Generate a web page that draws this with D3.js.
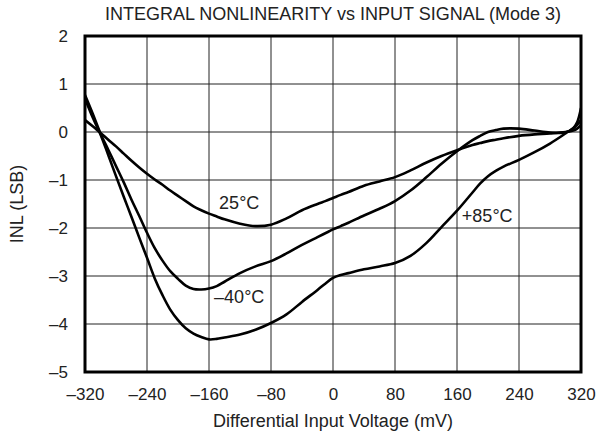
<!DOCTYPE html>
<html>
<head>
<meta charset="utf-8">
<script src="https://cdn.jsdelivr.net/npm/d3@7"></script>
<style>
  html, body { margin: 0; padding: 0; background: #fff; }
  svg { display: block; }
  text { font-family: "Liberation Sans", Arial, sans-serif; fill: #222; }
</style>
</head>
<body>
<svg id="chart" width="605" height="437"></svg>
<script>
// ---- Data ----
const chartTitle = "INTEGRAL NONLINEARITY vs INPUT SIGNAL (Mode 3)";
const xLabel = "Differential Input Voltage (mV)";
const yLabel = "INL (LSB)";
const xTicks = [-320, -240, -160, -80, 0, 80, 160, 240, 320];
const yTicks = [2, 1, 0, -1, -2, -3, -4, -5];

const xVoltage = [-320, -310, -300, -290, -280, -270, -260, -250, -240, -230, -220, -210, -200, -190, -180, -170, -160, -150, -140, -120, -100, -80, -60, -40, -20, -10, 0, 10, 20, 40, 60, 80, 100, 120, 140, 160, 180, 190, 200, 210, 220, 240, 260, 280, 300, 310, 315, 320];

const inl25 = [0.25, 0.12, -0.02, -0.16, -0.3, -0.45, -0.6, -0.74, -0.87, -0.99, -1.1, -1.22, -1.33, -1.44, -1.55, -1.63, -1.7, -1.76, -1.82, -1.91, -1.96, -1.93, -1.8, -1.63, -1.5, -1.44, -1.375, -1.31, -1.25, -1.12, -1.03, -0.94, -0.8, -0.64, -0.5, -0.38, -0.27, -0.23, -0.19, -0.16, -0.13, -0.08, -0.05, -0.03, 0.0, 0.03, 0.07, 0.15];

const inlMinus40 = [0.77, 0.38, -0.03, -0.37, -0.71, -1.05, -1.41, -1.75, -2.1, -2.42, -2.68, -2.9, -3.06, -3.2, -3.27, -3.28, -3.26, -3.21, -3.12, -2.94, -2.8, -2.69, -2.53, -2.35, -2.19, -2.11, -2.03, -1.96, -1.89, -1.74, -1.6, -1.44, -1.22, -0.95, -0.66, -0.4, -0.17, -0.08, 0.0, 0.04, 0.07, 0.07, 0.03, -0.01, -0.01, 0.08, 0.2, 0.5];

const inlPlus85 = [0.7, 0.3, -0.05, -0.48, -0.92, -1.35, -1.77, -2.2, -2.62, -3.05, -3.4, -3.7, -3.92, -4.09, -4.2, -4.27, -4.32, -4.31, -4.28, -4.22, -4.12, -3.98, -3.8, -3.54, -3.29, -3.16, -3.04, -2.98, -2.94, -2.86, -2.8, -2.73, -2.58, -2.32, -1.98, -1.64, -1.26, -1.07, -0.92, -0.81, -0.72, -0.58, -0.42, -0.24, -0.03, 0.08, 0.15, 0.25];

const seriesNames = ["25°C", "–40°C", "+85°C"];
const labelAnchors = [[-121, -1.47], [-121, -3.43], [199, -1.73]];

// ---- Layout ----
const svg = d3.select("#chart");
const plotLeft = 85, plotRight = 581, plotTop = 36, plotBottom = 372;

const x = d3.scaleLinear().domain([-320, 320]).range([plotLeft, plotRight]);
const y = d3.scaleLinear().domain([-5, 2]).range([plotBottom, plotTop]);

// grid
const grid = svg.append("g");
grid.selectAll("line.vx").data(xTicks).join("line")
  .attr("x1", d => x(d)).attr("x2", d => x(d))
  .attr("y1", plotTop).attr("y2", plotBottom)
  .attr("stroke", "#222").attr("stroke-width", 1);
grid.selectAll("line.hy").data(yTicks).join("line")
  .attr("x1", plotLeft).attr("x2", plotRight)
  .attr("y1", d => y(d)).attr("y2", d => y(d))
  .attr("stroke", "#222").attr("stroke-width", 1);

// axes (labels only)
const fmt = d => (d < 0 ? "\u2013" + Math.abs(d) : String(d));
const xAxis = d3.axisBottom(x).tickValues(xTicks).tickSize(0).tickPadding(16).tickFormat(fmt);
const gx = svg.append("g").attr("transform", `translate(0,${plotBottom})`).call(xAxis);
gx.select(".domain").remove();
gx.selectAll("text").attr("font-size", 17).attr("fill", "#222")
  .attr("font-family", "Liberation Sans, Arial, sans-serif");

const yAxis = d3.axisLeft(y).tickValues(yTicks).tickSize(0).tickPadding(17).tickFormat(fmt);
const gy = svg.append("g").attr("transform", `translate(${plotLeft},0)`).call(yAxis);
gy.select(".domain").remove();
gy.selectAll("text").attr("font-size", 17).attr("fill", "#222")
  .attr("font-family", "Liberation Sans, Arial, sans-serif");

// curves
const seriesData = [inl25, inlMinus40, inlPlus85];
const line = d3.line()
  .x((d, i) => x(xVoltage[i]))
  .y(d => y(d))
  .curve(d3.curveCatmullRom.alpha(0.5));

svg.append("clipPath").attr("id", "plotclip")
  .append("rect").attr("x", plotLeft).attr("y", plotTop)
  .attr("width", plotRight - plotLeft).attr("height", plotBottom - plotTop);

svg.append("g").attr("clip-path", "url(#plotclip)")
  .selectAll("path").data(seriesData).join("path")
  .attr("d", d => line(d))
  .attr("fill", "none").attr("stroke", "#000").attr("stroke-width", 2.6)
  .attr("stroke-linejoin", "round");

// border
svg.append("rect").attr("x", plotLeft).attr("y", plotTop)
  .attr("width", plotRight - plotLeft).attr("height", plotBottom - plotTop)
  .attr("fill", "none").attr("stroke", "#000").attr("stroke-width", 3);

// series labels
const labels = svg.append("g");
seriesNames.forEach((name, i) => {
  labels.append("text")
    .attr("x", x(labelAnchors[i][0])).attr("y", y(labelAnchors[i][1]))
    .attr("dy", "0.36em")
    .attr("text-anchor", "middle")
    .attr("font-size", 18).text(name);
});

// title
svg.append("text").attr("x", (plotLeft + plotRight) / 2).attr("y", 20)
  .attr("text-anchor", "middle")
  .attr("font-size", 18).text(chartTitle);

// axis titles
svg.append("text").attr("x", (plotLeft + plotRight) / 2).attr("y", 427)
  .attr("text-anchor", "middle")
  .attr("font-size", 18).text(xLabel);

svg.append("text")
  .attr("transform", `translate(17,${(plotTop + plotBottom) / 2}) rotate(-90)`)
  .attr("text-anchor", "middle").attr("dominant-baseline", "central")
  .attr("font-size", 18).text(yLabel);
</script>
</body>
</html>
